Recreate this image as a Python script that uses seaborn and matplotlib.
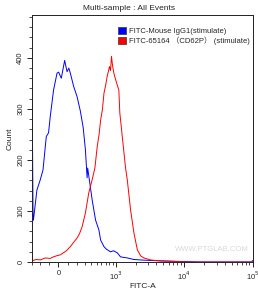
import numpy as np
import pandas as pd
import matplotlib
matplotlib.use("Agg")
import matplotlib.pyplot as plt
from matplotlib.patches import Patch
import seaborn as sns

# ---- data ----
series_names = ["FITC-Mouse IgG1(stimulate)", "FITC-65164 （CD62P） (stimulate)"]
series_colors = ["#0000ff", "#ff0000"]

blue_fitc = [-300, -285, -280, -234, -193, -161, -124, -100, -82, -48, -13, 3, 30, 64, 89,
             108, 124, 161, 201, 243, 280, 311, 336, 345, 417, 479, 545, 582, 660, 722,
             835, 930, 1059, 1187, 1495, 1855, 2352, 3300, 5470, 9060, 17700, 98000, 100000]
blue_count = [370, 82, 82, 141, 161, 180, 246, 253, 285, 337, 370, 372, 360, 395, 373,
              380, 370, 344, 324, 295, 263, 220, 165, 184, 122, 82, 63, 43, 30, 25,
              20, 22, 18, 10, 8, 5, 4, 3, 2, 1, 0, 0, 3]

red_fitc = [-300, -290, -280, -243, -193, -135, -82, -51, -20, 20, 51, 82, 124, 158, 201,
            230, 265, 311, 361, 417, 466, 511, 549, 582, 621, 660, 698, 739, 806, 835,
            865, 897, 940, 1033, 1118, 1157, 1259, 1410, 1495, 1673, 1874, 2103, 2352,
            2622, 3300, 4620, 7660, 12680, 100000]
red_count = [22, 3, 3, 5, 4, 8, 7, 10, 12, 14, 18, 22, 30, 38, 47,
             55, 69, 96, 135, 161, 184, 226, 250, 278, 298, 331, 345, 363, 383, 375,
             403, 385, 370, 351, 337, 292, 246, 184, 161, 102, 57, 24, 12,
             8, 4, 2, 1, 0, 0]

x_tick_vals = [0, 1000, 10000, 100000]
x_tick_labels = ["0", "10$^3$", "10$^4$", "10$^5$"]
y_tick_vals = [0, 100, 200, 300, 400]

df = pd.concat([
    pd.DataFrame({"FITC-A": blue_fitc, "Count": blue_count, "sample": series_names[0]}),
    pd.DataFrame({"FITC-A": red_fitc, "Count": red_count, "sample": series_names[1]}),
], ignore_index=True)

# ---- style ----
sns.set_style("ticks")
plt.rcParams["font.family"] = ["Liberation Sans", "Noto Sans CJK SC", "DejaVu Sans"]

fig = plt.figure(figsize=(2.58, 2.94), dpi=100)
ax = fig.add_axes([32 / 258, 1 - 262 / 294, (252.5 - 32) / 258, (262 - 15) / 294])

C = 300.0
def fwd(v):
    return np.arcsinh(np.asarray(v, dtype=float) / C) / np.log(10)
def inv(u):
    return C * np.sinh(np.asarray(u, dtype=float) * np.log(10))
ax.set_xscale("function", functions=(fwd, inv))

sns.lineplot(data=df, x="FITC-A", y="Count", hue="sample", palette=series_colors,
             sort=False, estimator=None, linewidth=0.7, legend=False, ax=ax)

ax.set_xlim(-300, 100000)
ax.set_ylim(0, 484)

ax.set_xticks(x_tick_vals)
ax.set_xticklabels(x_tick_labels)
minor_x = [-300, -200, -100] + list(range(100, 1000, 100)) + list(range(2000, 10000, 1000)) \
          + list(range(20000, 100000, 10000))
ax.set_xticks(minor_x, minor=True)
ax.set_yticks(y_tick_vals)
ax.set_yticks(list(range(20, 484, 20)), minor=True)
for lab in ax.get_yticklabels():
    lab.set_rotation(90)
    lab.set_va("center")

ax.tick_params(axis="both", which="major", length=3.5, width=0.6, labelsize=5.5, pad=2, color="black")
ax.tick_params(axis="both", which="minor", length=2, width=0.5, color="black")
for s in ax.spines.values():
    s.set_linewidth(0.7)
    s.set_color("#222222")

ax.set_xlabel("FITC-A", fontsize=6, labelpad=1)
ax.set_ylabel("Count", fontsize=6, labelpad=3)
fig.text(0.5, 1 - 8 / 294, "Multi-sample : All Events", ha="center", va="center", fontsize=6)

handles = [Patch(facecolor=c, edgecolor="#333333", linewidth=0.5) for c in series_colors]
ax.legend(handles, series_names, loc="upper right", bbox_to_anchor=(1.005, 0.965),
          frameon=False, fontsize=5.5, handlelength=1.0, handleheight=1.0,
          handletextpad=0.4, labelspacing=0.15, borderaxespad=0.1)

ax.text(0.985, 0.035, "WWW.PTGLAB.COM", transform=ax.transAxes, ha="right", va="bottom",
        fontsize=5.5, color="#d9d9d9")

fig.savefig("out.png", dpi=100)
